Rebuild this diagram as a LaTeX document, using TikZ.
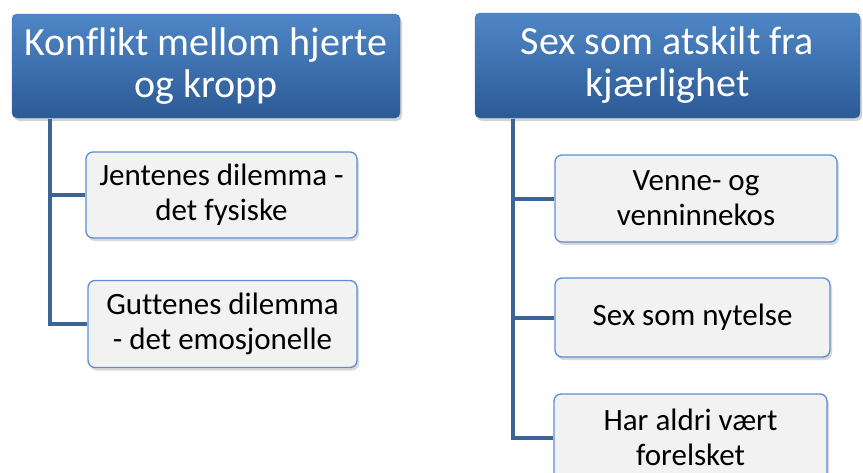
\documentclass[tikz,border=0pt]{standalone}
\usepackage{fontspec}
\setmainfont[Ligatures=NoCommon]{Carlito}
\usetikzlibrary{positioning,shadows}
\definecolor{hdrtop}{HTML}{4F86C6}
\definecolor{hdrbot}{HTML}{2C5A95}
\definecolor{hdrline}{HTML}{3C6AA6}
\definecolor{leafline}{HTML}{5C8FD0}
\definecolor{leaffill}{HTML}{F2F2F2}
\definecolor{connc}{HTML}{3D6497}

\begin{document}
\begin{tikzpicture}[x=1pt,y=-1pt,
  hdr/.style={draw=hdrline,rounded corners=5pt,top color=hdrtop,bottom color=hdrbot,
    text=white,align=center,inner sep=0pt,font=\fontsize{40}{42}\selectfont,
    drop shadow={opacity=0.35,shadow xshift=2pt,shadow yshift=-3pt}},
  leaf/.style={draw=leafline,line width=1.3pt,rounded corners=7pt,fill=leaffill,
    align=center,inner sep=0pt,font=\fontsize{31}{35}\selectfont,
    drop shadow={opacity=0.3,shadow xshift=2pt,shadow yshift=-3pt}},
  conn/.style={draw=connc,line width=4pt}]
  \useasboundingbox (0,0) rectangle (863,472);
  % left column
  \node[hdr,minimum width=388pt,minimum height=104pt] (k) at (206,66) {Konflikt mellom hjerte\\og kropp};
  \node[leaf,minimum width=271pt,minimum height=86pt] (jd) at (221.5,195) {Jentenes dilemma -\\det fysiske};
  \node[leaf,minimum width=269pt,minimum height=87pt] (gd) at (222.5,324) {Guttenes dilemma\\- det emosjonelle};
  % right column
  \node[hdr,minimum width=385pt,minimum height=105pt] (s) at (667.5,65.5) {Sex som atskilt fra\\kjærlighet};
  \node[leaf,minimum width=282pt,minimum height=87pt] (vv) at (696,198.5) {Venne- og\\venninnekos};
  \node[leaf,minimum width=275pt,minimum height=79pt] (sn) at (692.5,317.5) {Sex som nytelse};
  \node[leaf,minimum width=273pt,minimum height=87pt] (ha) at (690.5,437.5) {Har aldri vært\\forelsket};
  \coordinate (ks) at (50,119);
  \coordinate (ss) at (513,119);
  \draw[conn] (ks) |- (jd.west);
  \draw[conn] (ks) |- (gd.west);
  \draw[conn] (ss) |- (vv.west);
  \draw[conn] (ss) |- (sn.west);
  \draw[conn] (ss) |- (ha.west);
\end{tikzpicture}
\end{document}
